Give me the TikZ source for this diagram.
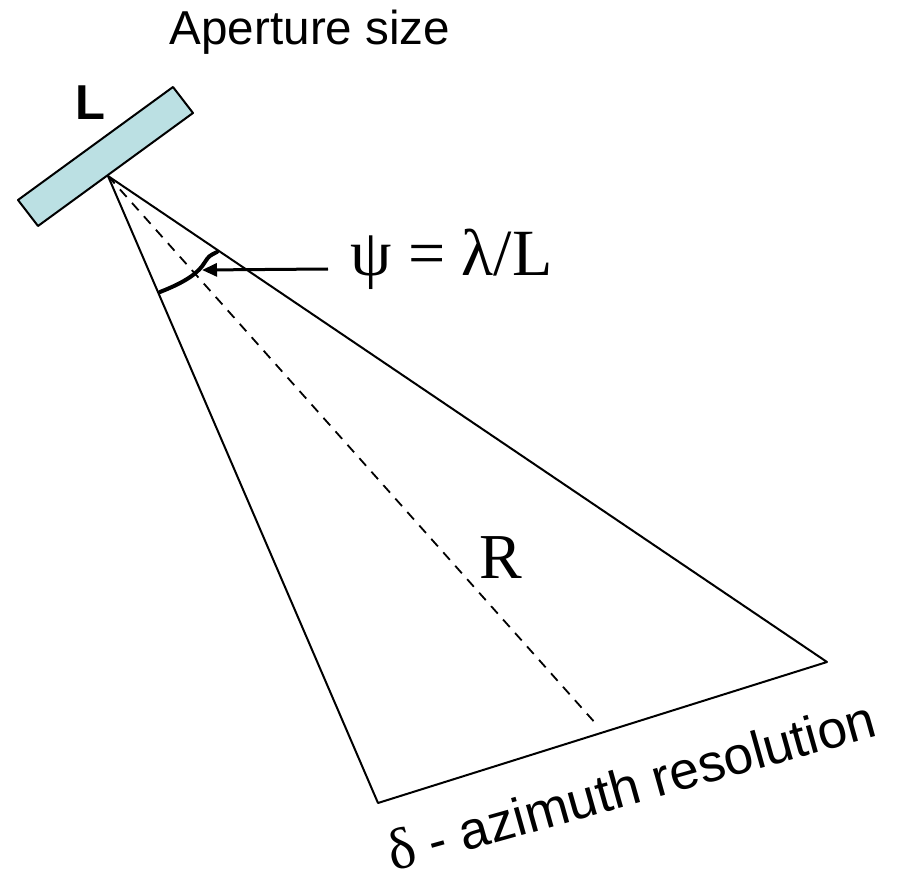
\documentclass[tikz,border=0pt]{standalone}
\usepackage{fontspec}
\setmainfont{Liberation Sans}
\newfontfamily\timesfont{Liberation Serif}
\usepackage{xcolor}
\usetikzlibrary{arrows.meta}
\definecolor{antblue}{RGB}{187,224,227}

\begin{document}
\begin{tikzpicture}[x=0.5pt,y=-0.5pt,>={Triangle[length=7.5pt,width=6.5pt]}]
  \useasboundingbox (0,0) rectangle (900,877);
  \coordinate (A1) at (18,200);
  \coordinate (A2) at (173,87);
  \coordinate (A3) at (193,113);
  \coordinate (A4) at (38,226);
  \coordinate (O) at (108,176);
  \coordinate (P) at (827,662);
  \coordinate (Q) at (378,803);
  \coordinate (M) at (597,725);
  \coordinate (tail) at (328,269);
  \coordinate (tip) at (202,270);
  \fill[antblue] (A1)--(A2)--(A3)--(A4)--cycle;
  \draw[line width=1pt,line join=round] (A1)--(A2)--(A3)--(A4)--cycle;
  \draw[line width=1pt,line join=round] (O)--(P)--(Q)--cycle;
  \draw[line width=0.9pt,dash pattern=on 5pt off 4pt] (O)--(M);
  \draw[line width=2pt,line cap=round] (160,292) .. controls (188,281) and (199,272) .. (205,262) .. controls (209,256) .. (217,252);
  \draw[->,line width=1.5pt] (tail)--(tip);
  \node[anchor=base,inner sep=0] (aperture) at (310,45) {\fontsize{23.8}{28}\selectfont Aperture size};
  \node[anchor=base,inner sep=0] (Llabel) at (90,120) {\fontsize{24.5}{29}\selectfont\bfseries L};
  \node[anchor=base west,inner sep=0] (psi) at (350,276) {\fontsize{33}{38}\selectfont\timesfont ψ = λ/L};
  \node[anchor=base,inner sep=0] (R) at (501,578) {\fontsize{32}{36}\selectfont\timesfont R};
  \node[anchor=base west,inner sep=0,rotate=15.7] (delta) at (393,872) {\fontsize{26.5}{30}\selectfont{\fontsize{29}{30}\selectfont\timesfont δ} - azimuth resolution};
\end{tikzpicture}
\end{document}
